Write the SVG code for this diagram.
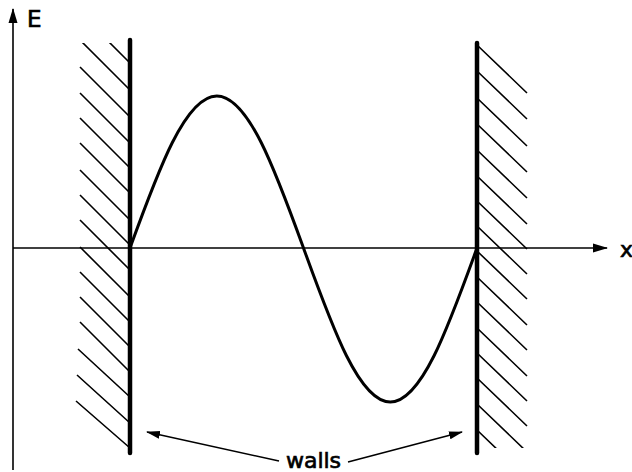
<svg xmlns="http://www.w3.org/2000/svg" width="632" height="472" viewBox="0 0 632 472">
<style>
.axis{stroke:#000;stroke-width:1.6;fill:none}
.wall{stroke:#000;stroke-width:4.5;fill:none;stroke-linecap:round}
.hatch{stroke:#000;stroke-width:1.6;fill:none}
.wave{stroke:#000;stroke-width:3;fill:none}
.ptr{stroke:#000;stroke-width:1.6;fill:none}
.lbl{font-family:"DejaVu Sans","Liberation Sans",sans-serif;fill:#000;stroke:#000;stroke-width:0.7}
</style>
<defs>
<marker id="ah" markerWidth="15" markerHeight="10" refX="14" refY="5" orient="auto" markerUnits="userSpaceOnUse">
<path d="M0,0.5 L15,5 L0,9.5 Z" fill="#000"/>
</marker>
<marker id="ahs" markerWidth="14" markerHeight="10" refX="13" refY="5" orient="auto" markerUnits="userSpaceOnUse">
<path d="M0,1 L14,5 L0,9 Z" fill="#000"/>
</marker>
<clipPath id="cl"><rect x="60" y="43" width="80" height="420"/></clipPath>
<clipPath id="cr"><rect x="470" y="40" width="80" height="408"/></clipPath>
</defs>
<g id="axes">
<line class="axis" x1="13" y1="470" x2="13" y2="9" marker-end="url(#ah)"/>
<line class="axis" x1="13" y1="248" x2="607" y2="248" marker-end="url(#ah)"/>
<text class="lbl" x="27" y="27" font-size="23">E</text>
<text class="lbl" x="620" y="257" font-size="22">x</text>
</g>
<g id="left-wall">
<g clip-path="url(#cl)">
<path class="hatch" d="M80,13 L130,63 M80,40 L130,90 M80,67 L130,117 M80,93 L130,143 M80,118 L130,168 M80,143 L130,193 M80,170 L130,220 M80,195 L130,245 M80,220 L130,270 M80,247 L130,297 M80,272 L130,322 M80,297 L130,347 M80,322 L130,372 M78,349 L130,397 M77,375 L130,423 M76,401 L130,448"/>
</g>
<line class="wall" x1="130" y1="40" x2="130" y2="453"/>
</g>
<g id="right-wall">
<g clip-path="url(#cr)">
<path class="hatch" d="M477,45 L527,93 M477,71 L527,119 M477,98 L527,146 M477,124 L527,172 M477,150 L527,198 M477,176 L527,224 M477,201 L527,249 M477,226 L527,274 M477,251 L527,299 M477,277 L527,325 M477,302 L527,350 M477,328 L527,376 M477,353 L527,401 M477,378 L527,426 M477,404 L527,452 M477,430 L527,478"/>
</g>
<line class="wall" x1="477" y1="43" x2="477" y2="453"/>
</g>
<g id="wave">
<path class="wave" d="M130,248 C158.3,170 185.4,96 216.8,96 C248.2,96 275.2,170 303.5,248 C331.8,326 358.9,402 390.3,402 C421.7,402 448.7,326 477,248"/>
</g>
<g id="walls-label">
<text class="lbl" x="313.5" y="468" font-size="22" text-anchor="middle">walls</text>
</g>
<g id="connectors">
<line class="ptr" x1="279" y1="461" x2="147" y2="432" marker-end="url(#ahs)"/>
<line class="ptr" x1="348" y1="462" x2="462" y2="432" marker-end="url(#ahs)"/>
</g>
</svg>
